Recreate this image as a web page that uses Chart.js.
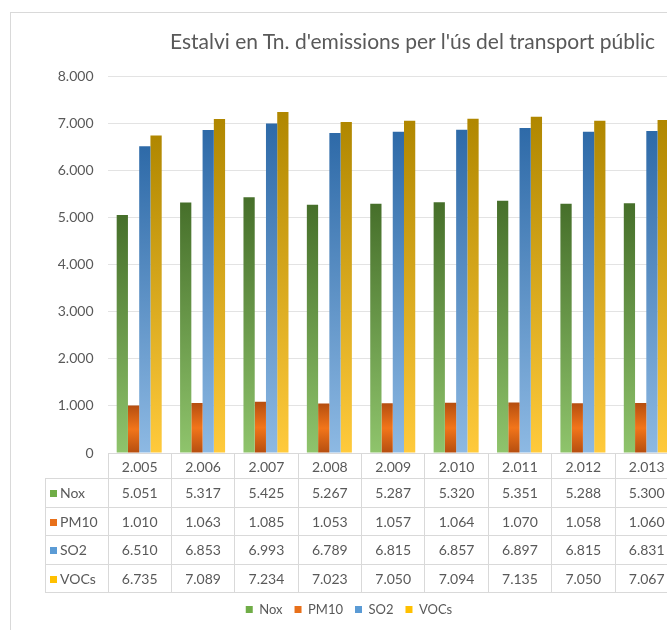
<!DOCTYPE html>
<html>
<head>
<meta charset="utf-8">
<script src="https://cdn.jsdelivr.net/npm/chart.js@4"></script>
<style>
  html, body { margin: 0; padding: 0; background: #fff; overflow: hidden; }
  #wrap { position: relative; width: 667px; height: 630px; overflow: hidden; }
  #frame { position: absolute; left: 10px; top: 12px; width: 700px; height: 640px; border: 1px solid #d9d9d9; box-sizing: border-box; }
  #box { position: absolute; left: 0; top: 0; width: 700px; height: 630px; }
  #title { position: absolute; top: 28px; left: 170px; white-space: nowrap; font-family: Lato, sans-serif; font-size: 21px; color: #595959; }
  #tbl { position: absolute; border-collapse: collapse; font-family: Lato, sans-serif; font-size: 14px; color: #595959; }
  #tbl td { border: 1px solid #d9d9d9; height: 28.5px; padding: 0; text-align: center; box-sizing: border-box; }
  #tbl tr.head td { height: 25px; }
  #tbl td.key { text-align: left; padding-left: 4px; }
  #tbl td.blank { border: none; }
  .sw { display: inline-block; width: 7px; height: 7px; margin-right: 3px; vertical-align: 1px; }
</style>
</head>
<body>
<div id="wrap">
  <div id="frame"></div>
  <div id="box"><canvas id="chart" width="700" height="630"></canvas></div>
  <div id="title">Estalvi en Tn. d'emissions per l'ús del transport públic</div>
  <table id="tbl"></table>
</div>
<script>
const years = ['2.005', '2.006', '2.007', '2.008', '2.009', '2.010', '2.011', '2.012', '2.013'];
const seriesNames = ['Nox', 'PM10', 'SO2', 'VOCs'];
const nox  = [5051, 5317, 5425, 5267, 5287, 5320, 5351, 5288, 5300];
const pm10 = [1010, 1063, 1085, 1053, 1057, 1064, 1070, 1058, 1060];
const so2  = [6510, 6853, 6993, 6789, 6815, 6857, 6897, 6815, 6831];
const vocs = [6735, 7089, 7234, 7023, 7050, 7094, 7135, 7050, 7067];
const allSeries = [nox, pm10, so2, vocs];

const keyColors = ['#70ad47', '#e8701a', '#5b9bd5', '#ffc000'];
const gradStops = [
    [[0, '#466f2a'], [1, '#8fc46c']],
    [[0, '#b54e10'], [0.5, '#f2751a'], [1, '#b54e10']],
    [[0, '#2e6aa8'], [1, '#8db9e3']],
    [[0, '#b08700'], [1, '#ffca3c']]
];

function fmt(v) {
    return v.toLocaleString('de-DE');
}

function barGradient(i) {
    return (ctx) => {
        const chart = ctx.chart;
        if (ctx.type !== 'data' || !chart.chartArea) return keyColors[i];
        const y = chart.scales.y;
        const top = y.getPixelForValue(ctx.raw);
        const base = y.getPixelForValue(0);
        const g = chart.ctx.createLinearGradient(0, top, 0, base);
        gradStops[i].forEach(([o, c]) => g.addColorStop(o, c));
        return g;
    };
}

const chart = new Chart(document.getElementById('chart'), {
    type: 'bar',
    data: {
        labels: years,
        datasets: seriesNames.map((name, i) => ({
            label: name,
            data: allSeries[i],
            backgroundColor: barGradient(i),
            borderWidth: 0,
            categoryPercentage: 0.71,
            barPercentage: 1.0
        }))
    },
    options: {
        responsive: false,
        animation: false,
        devicePixelRatio: 1,
        layout: { padding: { left: 20, right: 22, top: 76, bottom: 4 } },
        plugins: {
            title: { display: false },
            tooltip: { enabled: false },
            legend: {
                position: 'bottom',
                labels: {
                    boxWidth: 7,
                    boxHeight: 7,
                    padding: 12,
                    color: '#595959',
                    font: { family: 'Lato', size: 13 },
                    generateLabels: (c) => seriesNames.map((name, i) => ({
                        text: name,
                        fillStyle: keyColors[i],
                        strokeStyle: keyColors[i],
                        lineWidth: 0,
                        datasetIndex: i,
                        fontColor: '#595959'
                    }))
                }
            }
        },
        scales: {
            x: {
                grid: { display: false },
                border: { display: false },
                ticks: { display: false },
                afterFit: (s) => { s.height = 138; }
            },
            y: {
                min: 0,
                max: 8000,
                ticks: {
                    stepSize: 1000,
                    padding: 14,
                    color: '#595959',
                    font: { family: 'Lato', size: 14 },
                    callback: (v) => fmt(v)
                },
                grid: { color: '#e3e3e3', drawTicks: false },
                border: { display: false },
                afterFit: (s) => { s.width = 87.5; }
            }
        }
    }
});

// data table under the plot, aligned to the category scale
function buildTable() {
    const x = chart.scales.x;
    const area = chart.chartArea;
    const colW = x.getPixelForValue(1) - x.getPixelForValue(0);
    const left0 = x.getPixelForValue(0) - colW / 2;
    const keyW = left0 - 45;
    const tbl = document.getElementById('tbl');
    tbl.style.left = '45px';
    tbl.style.top = area.bottom + 'px';
    let html = '<tr class="head"><td class="blank" style="width:' + keyW + 'px"></td>';
    years.forEach(y => { html += '<td style="width:' + colW + 'px">' + y + '</td>'; });
    html += '</tr>';
    seriesNames.forEach((name, i) => {
        html += '<tr><td class="key"><span class="sw" style="background:' + keyColors[i] + '"></span>' + name + '</td>';
        allSeries[i].forEach(v => { html += '<td>' + fmt(v) + '</td>'; });
        html += '</tr>';
    });
    tbl.innerHTML = html;
    tbl.style.width = (keyW + colW * years.length) + 'px';
    tbl.style.tableLayout = 'fixed';
}
buildTable();
</script>
</body>
</html>
